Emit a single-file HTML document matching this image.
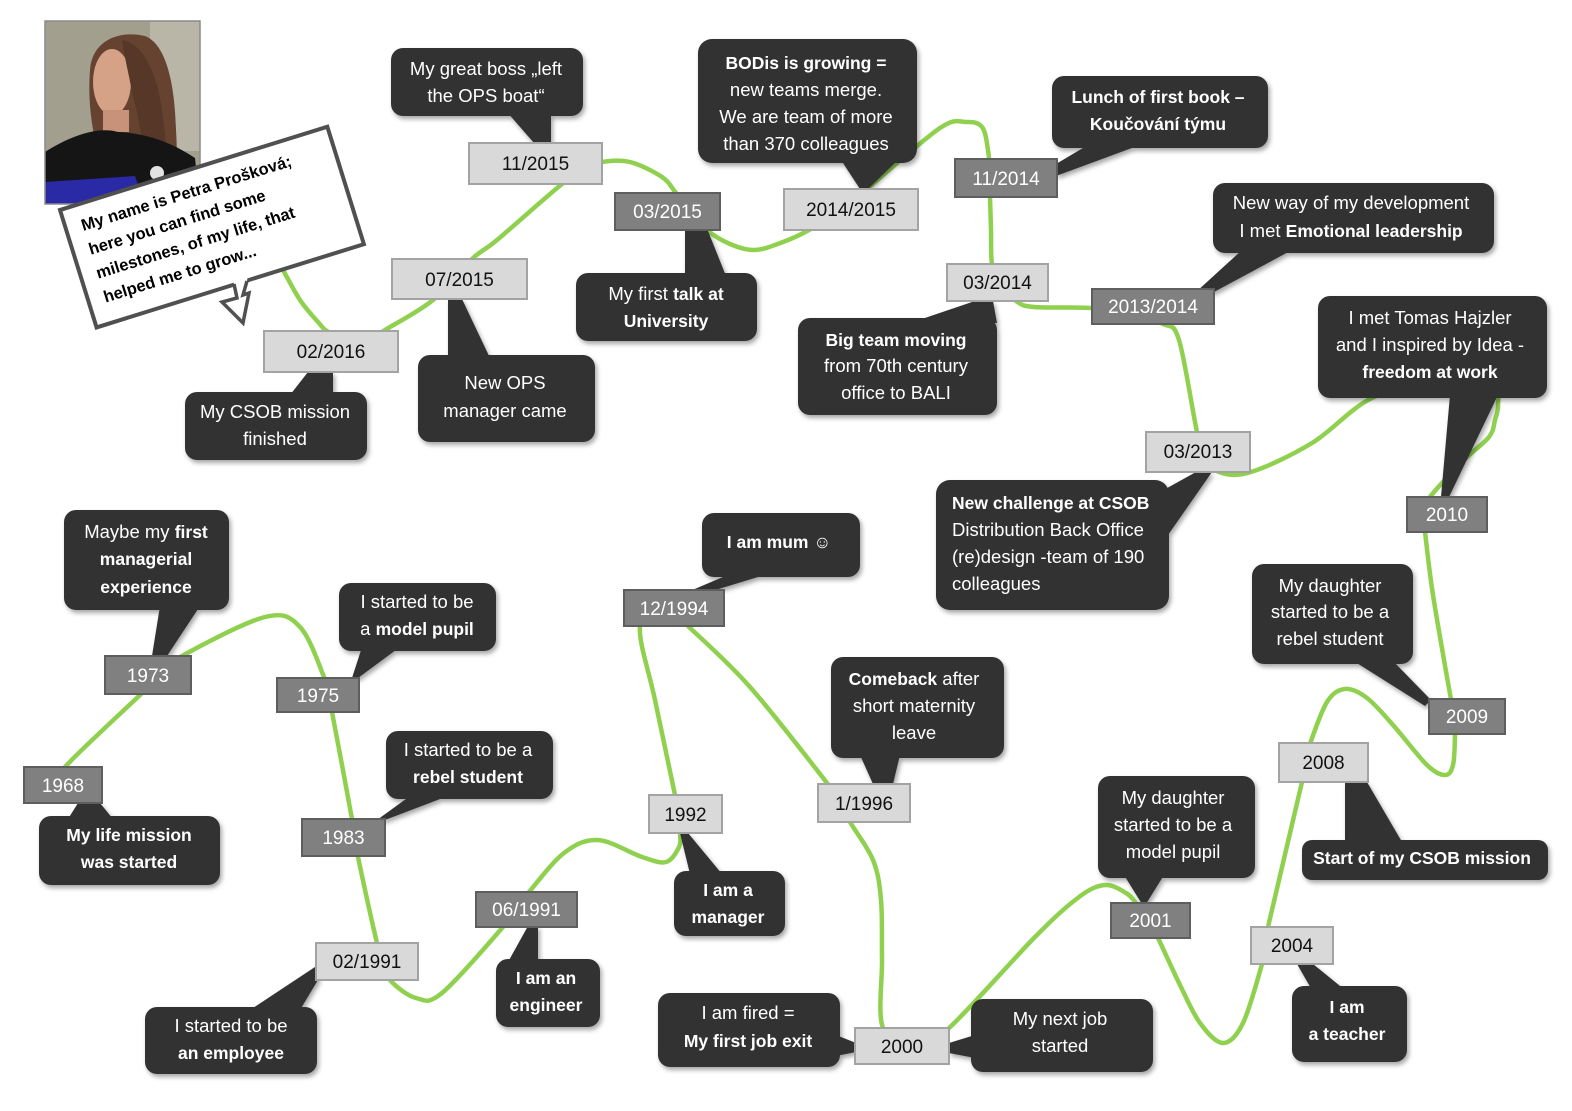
<!DOCTYPE html>
<html><head><meta charset="utf-8">
<style>
html,body{margin:0;padding:0;background:#fff;}
body{width:1572px;height:1111px;overflow:hidden;}
svg{display:block;}
text{font-family:"Liberation Sans",Arial,sans-serif;}
.c text{fill:#fff;font-size:18.5px;}
.c .b{font-weight:bold;font-size:17.5px;}
.dl text{font-size:19px;fill:#111;}
.dd text{font-size:19px;fill:#fff;}
</style></head>
<body>
<svg width="1572" height="1111" viewBox="0 0 1572 1111" xmlns="http://www.w3.org/2000/svg">
<defs>
<filter id="sh" x="-10%" y="-10%" width="130%" height="140%">
<feDropShadow dx="2" dy="3" stdDeviation="2.5" flood-color="#000" flood-opacity="0.35"/>
</filter>
</defs>
<rect width="1572" height="1111" fill="#fff"/>

<!-- photo -->
<g>
<rect x="45" y="21" width="155" height="183" fill="#a39f8f"/>
<rect x="150" y="21" width="50" height="130" fill="#b9b6a8"/>
<path d="M90,70 C92,40 120,30 145,36 C168,45 175,90 176,130 C178,160 176,185 172,200 L118,204 C100,170 86,120 90,70 Z" fill="#654330"/>
<ellipse cx="112" cy="82" rx="19" ry="33" fill="#d6a287"/>
<path d="M122,40 C148,44 160,85 164,125 C167,155 172,180 175,198 L150,198 C146,165 140,120 132,92 C128,70 124,55 122,40 Z" fill="#573828"/>
<rect x="103" y="110" width="26" height="22" fill="#c79279"/>
<path d="M45,152 C70,136 98,126 118,132 C142,133 168,140 195,158 L200,204 L45,204 Z" fill="#151515"/>
<path d="M45,182 L135,176 L145,204 L45,204 Z" fill="#2a2aa6"/>
<circle cx="157" cy="173" r="7" fill="#e2e2e2"/>
<rect x="45" y="21" width="155" height="183" fill="none" stroke="#8a8a8a" stroke-width="1.5"/>
</g>

<!-- green timeline curve -->
<polyline id="fb" fill="none" stroke="#8fd14f" stroke-width="4.5" stroke-linejoin="round" points=""/>
<path id="curve" fill="none" stroke="#8fd14f" stroke-width="4.5" stroke-linecap="round" d=""/>

<!-- speech bubble -->
<g transform="translate(60,210) rotate(-17.3)">
<rect x="0" y="0" width="280" height="123" fill="#fff" stroke="#505050" stroke-width="4"/>
<text font-weight="bold" font-size="16.5" fill="#000">
<tspan x="16" y="27">My name is Petra Prošková;</tspan>
<tspan x="16" y="52">here you can find some</tspan>
<tspan x="16" y="77">milestones, of my life, that</tspan>
<tspan x="16" y="102">helped me to grow...</tspan>
</text>
</g>
<polygon points="232,278 248,274 247,281 243,295 249,293 243,323 222,302 237,298 234,284" fill="#fff"/>
<path d="M234,284 L237,298 L222,302 L243,323 L249,293 L243,295 L247,281" fill="none" stroke="#505050" stroke-width="3.5" stroke-linejoin="miter"/>

<!-- callouts -->
<g class="c">
<g filter="url(#sh)" fill="#323232">
<rect x="391" y="48" width="192" height="68" rx="12"/><polygon points="507,112 551,112 551,143 534,143"/>
<rect x="698" y="39" width="219" height="124" rx="14"/><polygon points="841,160 898,160 868,189 860,189"/>
<rect x="576" y="273" width="181" height="68" rx="12"/><polygon points="685,276 726,276 708,231 685,231"/>
<rect x="1052" y="76" width="216" height="72" rx="12"/><polygon points="1088,145 1140,145 1056,176 1056,164"/>
<rect x="1213" y="183" width="281" height="70" rx="12"/><polygon points="1242,250 1292,250 1214,292 1196,292"/>
<rect x="798" y="318" width="199" height="97" rx="12"/><polygon points="916,321 997,323 993,301 975,301"/>
<rect x="1318" y="296" width="229" height="102" rx="12"/><polygon points="1450,395 1498,395 1449,497 1441,497"/>
<rect x="936" y="480" width="233" height="130" rx="14"/><polygon points="1160,492 1168,535 1212,472 1196,472"/>
<rect x="185" y="392" width="182" height="68" rx="12"/><polygon points="290,395 333,395 333,372 308,372"/>
<rect x="418" y="355" width="177" height="87" rx="12"/><polygon points="448,358 490,358 462,299 448,299"/>
<rect x="64" y="510" width="165" height="100" rx="12"/><polygon points="160,606 200,606 167,656 152,656"/>
<rect x="339" y="583" width="157" height="68" rx="12"/><polygon points="362,647 400,647 358,678 352,678"/>
<rect x="386" y="731" width="167" height="68" rx="12"/><polygon points="410,796 448,796 385,820 377,820"/>
<rect x="39" y="816" width="181" height="69" rx="12"/><polygon points="68,819 113,819 100,803 78,803"/>
<rect x="145" y="1007" width="172" height="67" rx="12"/><polygon points="250,1010 300,1010 318,980 318,965"/>
<rect x="496" y="959" width="104" height="68" rx="12"/><polygon points="508,962 538,962 538,926 528,926"/>
<rect x="674" y="871" width="111" height="65" rx="12"/><polygon points="690,874 722,874 688,833 680,833"/>
<rect x="702" y="513" width="158" height="64" rx="12"/><polygon points="730,574 768,574 712,591 690,591"/>
<rect x="831" y="657" width="173" height="101" rx="12"/><polygon points="860,755 900,755 893,784 873,784"/>
<rect x="658" y="993" width="182" height="74" rx="12"/><polygon points="836,1035 836,1056 856,1052 856,1043"/>
<rect x="971" y="999" width="182" height="73" rx="12"/><polygon points="975,1035 975,1058 949,1053 949,1043"/>
<rect x="1098" y="776" width="157" height="102" rx="12"/><polygon points="1124,875 1164,875 1146,904 1142,904"/>
<rect x="1252" y="564" width="161" height="100" rx="12"/><polygon points="1352,660 1392,660 1431,700 1425,706"/>
<rect x="1302" y="840" width="246" height="40" rx="10"/><polygon points="1345,842 1402,842 1367,782 1345,782"/>
<rect x="1292" y="986" width="115" height="76" rx="12"/><polygon points="1312,990 1345,990 1313,964 1297,964"/>
</g>

<text text-anchor="middle" x="486" y="75">My great boss „left</text>
<text text-anchor="middle" x="486" y="102">the OPS boat“</text>

<text text-anchor="middle" x="806" y="69" class="b">BODis is growing =</text>
<text text-anchor="middle" x="806" y="96">new teams merge.</text>
<text text-anchor="middle" x="806" y="123">We are team of more</text>
<text text-anchor="middle" x="806" y="150">than 370 colleagues</text>

<text text-anchor="middle" x="666" y="300">My first <tspan class="b">talk at</tspan></text>
<text text-anchor="middle" x="666" y="327" class="b">University</text>

<text text-anchor="middle" x="1158" y="103" class="b">Lunch of first book –</text>
<text text-anchor="middle" x="1158" y="130" class="b">Koučování týmu</text>

<text text-anchor="middle" x="1351" y="209">New way of my development</text>
<text text-anchor="middle" x="1351" y="237">I met <tspan class="b">Emotional leadership</tspan></text>

<text text-anchor="middle" x="896" y="346" class="b">Big team moving</text>
<text text-anchor="middle" x="896" y="372">from 70th century</text>
<text text-anchor="middle" x="896" y="399">office to BALI</text>

<text text-anchor="middle" x="1430" y="324">I met Tomas Hajzler</text>
<text text-anchor="middle" x="1430" y="351">and I inspired by Idea -</text>
<text text-anchor="middle" x="1430" y="378" class="b">freedom at work</text>

<text x="952" y="509" class="b">New challenge at CSOB</text>
<text x="952" y="536">Distribution Back Office</text>
<text x="952" y="563">(re)design -team of 190</text>
<text x="952" y="590">colleagues</text>

<text text-anchor="middle" x="275" y="418">My CSOB mission</text>
<text text-anchor="middle" x="275" y="445">finished</text>

<text text-anchor="middle" x="505" y="389">New OPS</text>
<text text-anchor="middle" x="505" y="417">manager came</text>

<text text-anchor="middle" x="146" y="538">Maybe my <tspan class="b">first</tspan></text>
<text text-anchor="middle" x="146" y="565" class="b">managerial</text>
<text text-anchor="middle" x="146" y="593" class="b">experience</text>

<text text-anchor="middle" x="417" y="608">I started to be</text>
<text text-anchor="middle" x="417" y="635">a <tspan class="b">model pupil</tspan></text>

<text text-anchor="middle" x="468" y="756">I started to be a</text>
<text text-anchor="middle" x="468" y="783" class="b">rebel student</text>

<text text-anchor="middle" x="129" y="841" class="b">My life mission</text>
<text text-anchor="middle" x="129" y="868" class="b">was started</text>

<text text-anchor="middle" x="231" y="1032">I started to be</text>
<text text-anchor="middle" x="231" y="1059" class="b">an employee</text>

<text text-anchor="middle" x="546" y="984" class="b">I am an</text>
<text text-anchor="middle" x="546" y="1011" class="b">engineer</text>

<text text-anchor="middle" x="728" y="896" class="b">I am a</text>
<text text-anchor="middle" x="728" y="923" class="b">manager</text>

<text text-anchor="middle" x="779" y="548" class="b">I am mum ☺</text>

<text text-anchor="middle" x="914" y="685"><tspan class="b">Comeback</tspan> after</text>
<text text-anchor="middle" x="914" y="712">short maternity</text>
<text text-anchor="middle" x="914" y="739">leave</text>

<text text-anchor="middle" x="748" y="1019">I am fired =</text>
<text text-anchor="middle" x="748" y="1047" class="b">My first job exit</text>

<text text-anchor="middle" x="1060" y="1025">My next job</text>
<text text-anchor="middle" x="1060" y="1052">started</text>

<text text-anchor="middle" x="1173" y="804">My daughter</text>
<text text-anchor="middle" x="1173" y="831">started to be a</text>
<text text-anchor="middle" x="1173" y="858">model pupil</text>

<text text-anchor="middle" x="1330" y="592">My daughter</text>
<text text-anchor="middle" x="1330" y="618">started to be a</text>
<text text-anchor="middle" x="1330" y="645">rebel student</text>

<text text-anchor="middle" x="1422" y="864" class="b">Start of my CSOB mission</text>

<text text-anchor="middle" x="1347" y="1013" class="b">I am</text>
<text text-anchor="middle" x="1347" y="1040" class="b">a teacher</text>
</g>

<!-- light date boxes -->
<g class="dl">
<g fill="#d9d9d9" stroke="#a3a3a3" stroke-width="2">
<rect x="469" y="143" width="133" height="41"/>
<rect x="392" y="259" width="135" height="40"/>
<rect x="264" y="331" width="134" height="41"/>
<rect x="784" y="189" width="134" height="41"/>
<rect x="947" y="264" width="101" height="37"/>
<rect x="1146" y="432" width="104" height="40"/>
<rect x="1279" y="743" width="89" height="39"/>
<rect x="1251" y="927" width="82" height="37"/>
<rect x="855" y="1028" width="94" height="36"/>
<rect x="818" y="784" width="92" height="38"/>
<rect x="649" y="795" width="73" height="38"/>
<rect x="316" y="943" width="102" height="37"/>
</g>
<text text-anchor="middle" x="535.5" y="170">11/2015</text>
<text text-anchor="middle" x="459.5" y="286">07/2015</text>
<text text-anchor="middle" x="331" y="358">02/2016</text>
<text text-anchor="middle" x="851" y="216">2014/2015</text>
<text text-anchor="middle" x="997.5" y="289">03/2014</text>
<text text-anchor="middle" x="1198" y="458">03/2013</text>
<text text-anchor="middle" x="1323.5" y="769">2008</text>
<text text-anchor="middle" x="1292" y="952">2004</text>
<text text-anchor="middle" x="902" y="1053">2000</text>
<text text-anchor="middle" x="864" y="810">1/1996</text>
<text text-anchor="middle" x="685.5" y="821">1992</text>
<text text-anchor="middle" x="367" y="968">02/1991</text>
</g>

<!-- dark date boxes -->
<g class="dd">
<g fill="#808080" stroke="#5e5e5e" stroke-width="2">
<rect x="615" y="193" width="105" height="37"/>
<rect x="955" y="159" width="102" height="38"/>
<rect x="1092" y="289" width="122" height="35"/>
<rect x="1407" y="497" width="80" height="35"/>
<rect x="1429" y="699" width="76" height="35"/>
<rect x="1111" y="903" width="79" height="35"/>
<rect x="624" y="590" width="100" height="36"/>
<rect x="476" y="892" width="101" height="35"/>
<rect x="302" y="819" width="83" height="37"/>
<rect x="277" y="678" width="82" height="34"/>
<rect x="105" y="656" width="86" height="38"/>
<rect x="24" y="767" width="78" height="36"/>
</g>
<text text-anchor="middle" x="667.5" y="218">03/2015</text>
<text text-anchor="middle" x="1006" y="185">11/2014</text>
<text text-anchor="middle" x="1153" y="313">2013/2014</text>
<text text-anchor="middle" x="1447" y="521">2010</text>
<text text-anchor="middle" x="1467" y="723">2009</text>
<text text-anchor="middle" x="1150.5" y="927">2001</text>
<text text-anchor="middle" x="674" y="615">12/1994</text>
<text text-anchor="middle" x="526.5" y="916">06/1991</text>
<text text-anchor="middle" x="343.5" y="844">1983</text>
<text text-anchor="middle" x="318" y="702">1975</text>
<text text-anchor="middle" x="148" y="682">1973</text>
<text text-anchor="middle" x="63" y="792">1968</text>
</g>
</svg>

<script>
(function(){
var p=[[272,250],[283,270],[300,300],[318,322],[330,333],[360,345],[385,330],[433,300],[472,259],[497,240],[562,184],[585,170],[602,162],[630,162],[662,177],[676,193],[692,212],[707,230],[730,244],[755,250],[783,242],[809,230],[840,210],[869,187],[940,128],[966,122],[982,127],[988,150],[990,175],[990,197],[991,230],[992,264],[1000,285],[1016,301],[1034,307],[1091,308],[1130,315],[1163,324],[1179,340],[1197,432],[1205,455],[1219,472],[1251,472],[1312,443],[1372,398],[1440,382],[1492,390],[1498,405],[1495,420],[1489,437],[1464,460],[1430,497],[1423,515],[1425,532],[1433,595],[1450,694],[1454,715],[1455,734],[1453,765],[1445,775],[1427,765],[1393,725],[1367,698],[1345,689],[1327,702],[1310,744],[1305,765],[1302,782],[1268,927],[1265,945],[1262,964],[1243,1023],[1223,1043],[1200,1023],[1180,985],[1158,938],[1148,920],[1136,903],[1126,893],[1105,885],[1079,897],[1035,937],[948,1029],[915,1045],[883,1028],[882,960],[881,900],[873,860],[850,822],[838,800],[827,783],[750,687],[688,626],[665,605],[640,626],[655,700],[675,795],[678,815],[680,833],[679,847],[666,862],[642,857],[598,840],[564,853],[529,892],[515,910],[503,927],[442,993],[416,998],[390,980],[383,960],[377,943],[358,857],[355,838],[352,819],[332,712],[328,695],[324,677],[300,627],[265,617],[182,656],[160,676],[140,695],[65,767],[60,785]];
var d="M"+p[0][0]+","+p[0][1];
for(var i=0;i<p.length-1;i++){
var p0=p[i-1]||p[i],p1=p[i],p2=p[i+1],p3=p[i+2]||p2;
var c1x=p1[0]+(p2[0]-p0[0])/6,c1y=p1[1]+(p2[1]-p0[1])/6;
var c2x=p2[0]-(p3[0]-p1[0])/6,c2y=p2[1]-(p3[1]-p1[1])/6;
d+="C"+c1x.toFixed(1)+","+c1y.toFixed(1)+" "+c2x.toFixed(1)+","+c2y.toFixed(1)+" "+p2[0]+","+p2[1];
}
document.getElementById("curve").setAttribute("d",d);
})();
</script>
</body></html>
